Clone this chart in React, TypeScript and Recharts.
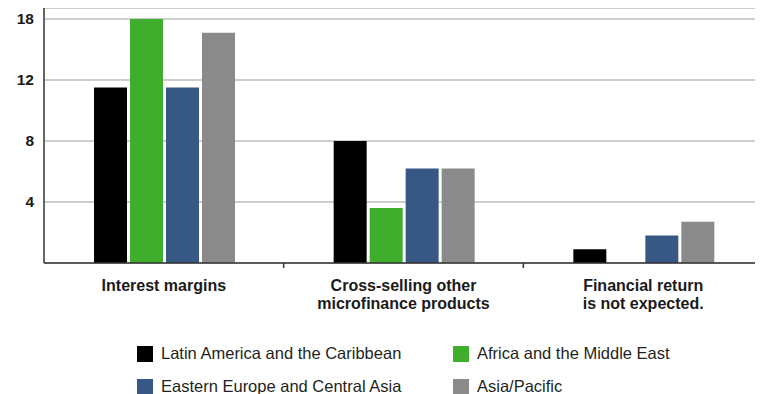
import React from 'react';
import { BarChart, Bar, XAxis, YAxis, CartesianGrid, Legend } from 'recharts';

// values read on the evenly spaced grid (0-4-8-12-top line)
const categories = [
  'Interest margins',
  'Cross-selling other|microfinance products',
  'Financial return|is not expected.',
];
const latinAmerica = [11.5, 8.0, 0.9];
const africaMiddleEast = [16.0, 3.6, 0];
const easternEurope = [11.5, 6.2, 1.8];
const asiaPacific = [15.1, 6.2, 2.7];

const yTicks = [0, 4, 8, 12, 16];
// the top gridline is labelled 18 in the source
const yTickLabels = ['', '4', '8', '12', '18'];

const seriesNames = [
  'Latin America and the Caribbean',
  'Africa and the Middle East',
  'Eastern Europe and Central Asia',
  'Asia/Pacific',
];
const seriesKeys = ['latin', 'africa', 'eastern', 'asia'];
const seriesColors = ['#000000', '#3fae2c', '#375785', '#8a8a8b'];

const data = categories.map((c, i) => ({
  name: c,
  latin: latinAmerica[i],
  africa: africaMiddleEast[i],
  eastern: easternEurope[i],
  asia: asiaPacific[i],
}));

const FONT = '"Liberation Sans", Arial, Helvetica, sans-serif';

const CategoryTick = (props: any) => {
  const { x, y, payload, index } = props;
  const lines = String(payload.value).split('|');
  const half = payload.offset || 0;
  return (
    <g>
      {index < categories.length - 1 && (
        <line x1={x + half} x2={x + half} y1={y} y2={y + 5} stroke="#333" strokeWidth={1.5} />
      )}
      <text
        x={x}
        y={y + 28}
        textAnchor="middle"
        fontFamily={FONT}
        fontSize={16}
        fontWeight="bold"
        fill="#1a1a1a"
      >
        {lines.map((l, i) => (
          <tspan key={i} x={x} dy={i === 0 ? 0 : 18}>
            {l}
          </tspan>
        ))}
      </text>
    </g>
  );
};

const LegendBox = () => {
  const pos = [
    { left: 129, top: 22 },
    { left: 445, top: 22 },
    { left: 129, top: 55 },
    { left: 445, top: 55 },
  ];
  return (
    <div style={{ position: 'relative', width: 755, height: 71 }}>
      {seriesNames.map((n, i) => (
        <div
          key={n}
          style={{
            position: 'absolute',
            left: pos[i].left,
            top: pos[i].top,
            display: 'flex',
            alignItems: 'center',
            height: 17,
          }}
        >
          <span
            style={{
              display: 'inline-block',
              width: 16,
              height: 16,
              background: seriesColors[i],
              marginRight: 8,
            }}
          />
          <span style={{ fontFamily: FONT, fontSize: 16.5, color: '#231f20', whiteSpace: 'nowrap' }}>
            {n}
          </span>
        </div>
      ))}
    </div>
  );
};

export default function App() {
  return (
    <BarChart
      width={755}
      height={386}
      data={data}
      margin={{ top: 0, right: 0, left: 0, bottom: 0 }}
      barCategoryGap={50}
      barGap={3}
    >
      <CartesianGrid vertical={false} stroke="#bdbdbd" strokeWidth={1.5} />
      <XAxis
        dataKey="name"
        height={60}
        tickLine={false}
        tickSize={0}
        tickMargin={0}
        axisLine={{ stroke: '#333', strokeWidth: 1.5 }}
        tick={<CategoryTick />}
        interval={0}
      />
      <YAxis
        width={36}
        domain={[0, 16.72]}
        ticks={yTicks}
        allowDataOverflow
        tickLine={false}
        tickMargin={4}
        axisLine={{ stroke: '#333', strokeWidth: 1.5 }}
        tickFormatter={(v: number) => yTickLabels[yTicks.indexOf(v)] ?? ''}
        tick={{ fontFamily: FONT, fontSize: 15.5, fontWeight: 'bold', fill: '#1a1a1a' }}
      />
      <Legend verticalAlign="bottom" align="left" height={71} content={<LegendBox />} />
      {seriesKeys.map((k, i) => (
        <Bar key={k} dataKey={k} name={seriesNames[i]} fill={seriesColors[i]} isAnimationActive={false} />
      ))}
    </BarChart>
  );
}
